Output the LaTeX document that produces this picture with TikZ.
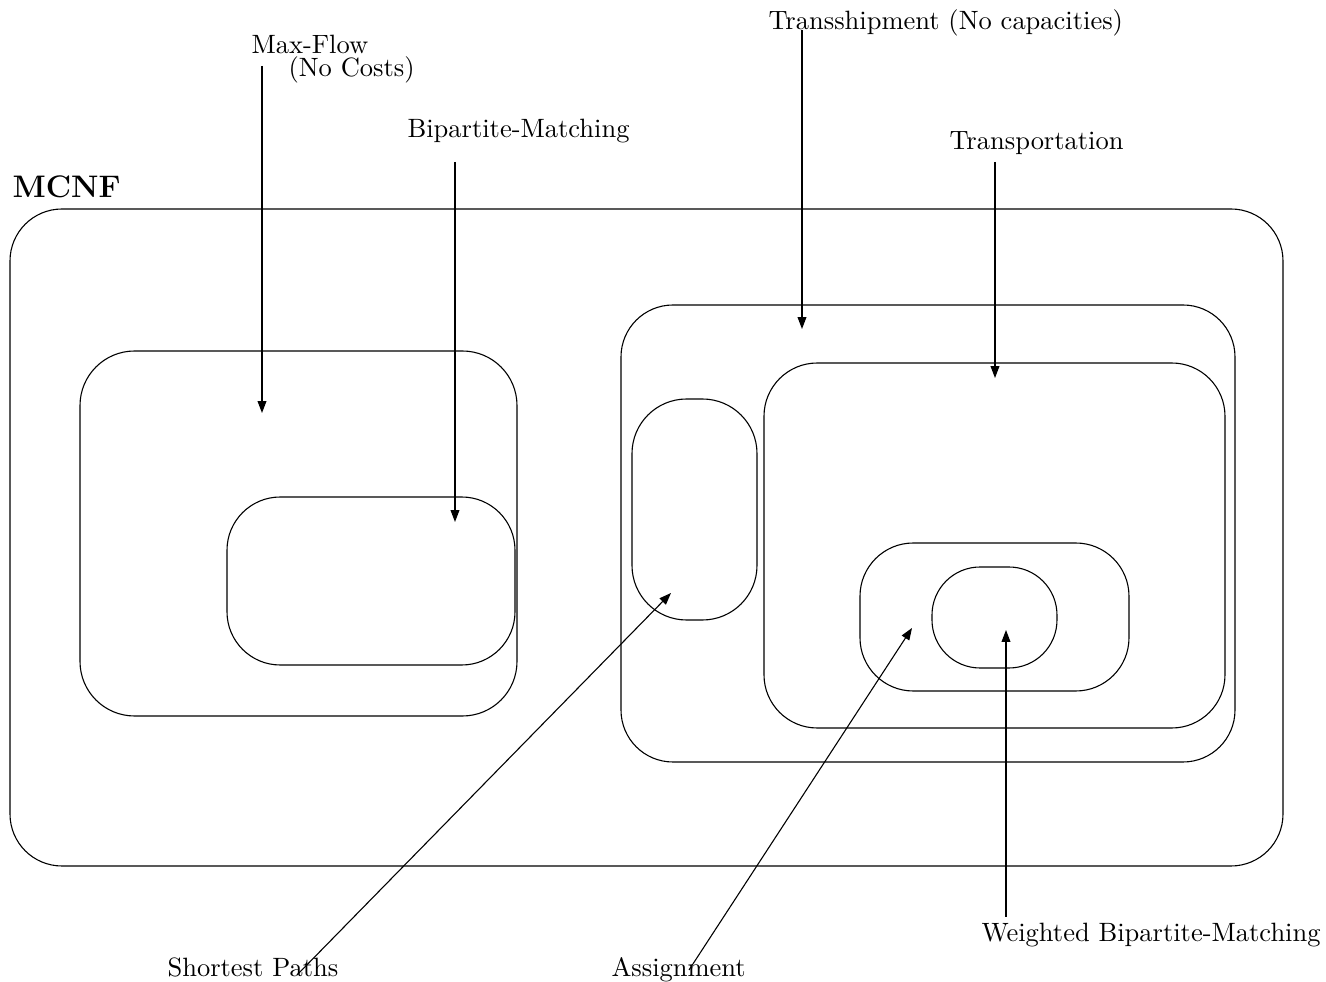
\documentclass[tikz,border=0pt]{standalone}
\usetikzlibrary{arrows.meta}

\tikzset{
  region/.style = {draw, rounded corners=#1},
  pointer/.style = {-{Triangle[length=4.6pt,width=3.4pt]}},
  tag/.style = {anchor=base west, inner sep=0pt, font=\fontsize{10.2}{12.2}\selectfont}
}

\begin{document}
\begin{tikzpicture}[x=0.385pt, y=-0.385pt, line width=0.42pt]
  \useasboundingbox (0,0) rectangle (1326,982);
  % the regions
  \draw[region=20pt] (10,209) rectangle (1283,866);
  \draw[region=21pt] (80,351) rectangle (517,716);
  \draw[region=20.5pt] (227,497) rectangle (515,665);
  \draw[region=20pt] (621,305) rectangle (1235,762);
  \draw[region=21pt] (632,399) rectangle (757,620);
  \draw[region=20.5pt] (764,363) rectangle (1225,728);
  \draw[region=20.5pt] (860,543) rectangle (1129,691);
  \draw[region=18.5pt] (932,567) rectangle (1057,668);
  % the labels
  \node[tag, font=\large\bfseries] (mcnf) at (12,198) {MCNF};
  \node[tag] (maxflow) at (251,54) {Max-Flow};
  \node[tag] (nocosts) at (288,77) {(No Costs)};
  \node[tag] (bipmatch) at (407,138) {Bipartite-Matching};
  \node[tag] (transship) at (768,30) {Transshipment (No capacities)};
  \node[tag] (transport) at (949,150) {Transportation};
  \node[tag] (shortest) at (167,977) {Shortest Paths};
  \node[tag] (assign) at (611,977) {Assignment};
  \node[tag] (wbmatch) at (981,942) {Weighted Bipartite-Matching};
  % the ends of the pointers
  \coordinate (maxflow-tail) at (262,66);
  \coordinate (maxflow-head) at (262,413);
  \coordinate (bipmatch-tail) at (455,162);
  \coordinate (bipmatch-head) at (455,522);
  \coordinate (transship-tail) at (802,30);
  \coordinate (transship-head) at (802,329);
  \coordinate (transport-tail) at (995,162);
  \coordinate (transport-head) at (995,378);
  \coordinate (shortest-tail) at (297,975);
  \coordinate (shortest-head) at (671,593);
  \coordinate (assign-tail) at (689,970);
  \coordinate (assign-head) at (912,628);
  \coordinate (wbmatch-tail) at (1006,917);
  \coordinate (wbmatch-head) at (1006,630);
  % the pointers
  \draw[pointer] (maxflow-tail) -- (maxflow-head);
  \draw[pointer] (bipmatch-tail) -- (bipmatch-head);
  \draw[pointer] (transship-tail) -- (transship-head);
  \draw[pointer] (transport-tail) -- (transport-head);
  \draw[pointer] (shortest-tail) -- (shortest-head);
  \draw[pointer] (assign-tail) -- (assign-head);
  \draw[pointer] (wbmatch-tail) -- (wbmatch-head);
\end{tikzpicture}
\end{document}
